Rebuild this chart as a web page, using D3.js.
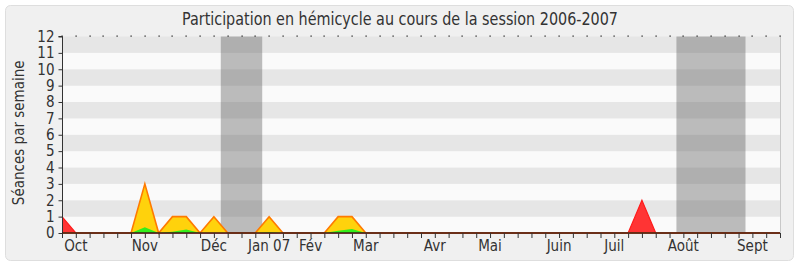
<!DOCTYPE html>
<html>
<head>
<meta charset="utf-8">
<script src="https://cdn.jsdelivr.net/npm/d3@7"></script>
<style>
  html, body { margin: 0; padding: 0; background: #ffffff; }
  svg { display: block; }
  svg text { font-family: "DejaVu Sans Condensed", "DejaVu Sans", sans-serif; font-stretch: condensed; }
</style>
</head>
<body>
<svg id="chart" width="800" height="267"></svg>
<script>
// Weekly sessions, 53 weeks from early October 2006 to end of September 2007
const presences = [0,0,0,0,0,0,3,0,1,1,0,1,0,0,0,1,0,0,0,0,1,1,0,0,0,0,0,0,0,0,0,0,0,0,0,0,0,0,0,0,0,0,0,0,0,0,0,0,0,0,0,0,0];
const commission = [1,0,0,0,0,0,0,0,0,0,0,0,0,0,0,0,0,0,0,0,0,0,0,0,0,0,0,0,0,0,0,0,0,0,0,0,0,0,0,0,0,0,2,0,0,0,0,0,0,0,0,0,0];
const interventions = [0,0,0,0,0,0,0.35,0,0.08,0.22,0,0,0,0,0,0.05,0,0,0,0,0.14,0.24,0,0,0,0,0,0,0,0,0,0,0,0,0,0,0,0,0,0,0,0,0,0,0,0,0,0,0,0,0,0,0];

// Month labels and the week they sit under
const monthLabels = ["Oct","Nov","Déc","Jan 07","Fév","Mar","Avr","Mai","Juin","Juil","Août","Sept"];
const monthWeeks = [1,6,11,15,18,22,27,31,36,40,45,50];

// Parliamentary holidays (week ranges)
const holidayStart = [11.5, 44.5];
const holidayEnd = [14.5, 49.5];

const yTicks = [0,1,2,3,4,5,6,7,8,9,10,11,12];

(function draw() {
  const svg = d3.select("#chart");
  const plotLeft = 62, plotRight = 780, plotTop = 36.5, plotBottom = 233;

  const weeks = d3.range(presences.length);
  const x = d3.scaleLinear().domain([0, weeks.length - 1]).range([plotLeft, plotRight]);
  const y = d3.scaleLinear().domain([0, 12]).range([plotBottom, plotTop]);

  // Frame
  svg.append("rect")
    .attr("x", 5.5).attr("y", 5.5).attr("width", 788).attr("height", 255)
    .attr("rx", 5).attr("fill", "#f0f0f0").attr("stroke", "#dedede");

  // Title
  svg.append("text")
    .attr("x", 400).attr("y", 25).attr("text-anchor", "middle")
    .attr("font-size", 17).attr("fill", "#333")
    .attr("textLength", 436).attr("lengthAdjust", "spacingAndGlyphs")
    .text("Participation en hémicycle au cours de la session 2006-2007");

  // Alternating horizontal bands
  const bands = yTicks.slice(0, -1);
  svg.append("g").selectAll("rect").data(bands).join("rect")
    .attr("x", plotLeft).attr("width", plotRight - plotLeft)
    .attr("y", d => y(d + 1)).attr("height", d => y(d) - y(d + 1))
    .attr("fill", d => (d % 2 === 1) ? "#e6e6e6" : "#fafafa");

  // Holiday shading
  svg.append("g").selectAll("rect").data(holidayStart).join("rect")
    .attr("x", d => x(d)).attr("width", (d, i) => x(holidayEnd[i]) - x(d))
    .attr("y", plotTop).attr("height", plotBottom - plotTop)
    .attr("fill", "rgb(92,92,92)").attr("fill-opacity", 0.4);

  // Right border of the plot
  svg.append("line")
    .attr("x1", plotRight + 0.5).attr("x2", plotRight + 0.5).attr("y1", plotTop).attr("y2", plotBottom)
    .attr("stroke", "#c8c8c8");

  // Dotted top edge
  svg.append("g").selectAll("rect").data(weeks).join("rect")
    .attr("x", d => Math.round(x(d)) - 0.5).attr("y", plotTop - 1).attr("width", 1.2).attr("height", 1.2)
    .attr("fill", "#111");

  // Series areas (filled) and their upper outlines
  const areaOf = values => d3.area().x((d, i) => x(i)).y0(y(0)).y1(d => y(d))(values);
  const lineOf = values => d3.line().x((d, i) => x(i)).y(d => y(d))(values);

  svg.append("path").attr("d", areaOf(commission)).attr("fill", "#ff3434");
  svg.append("path").attr("d", lineOf(commission))
    .attr("fill", "none").attr("stroke", "#ff1a1a").attr("stroke-width", 1.2);

  svg.append("path").attr("d", areaOf(presences)).attr("fill", "#ffd20c");
  svg.append("path").attr("d", lineOf(presences))
    .attr("fill", "none").attr("stroke", "#ff7a00").attr("stroke-width", 1.6);

  svg.append("path").attr("d", areaOf(interventions)).attr("fill", "#33ee1a");

  // Y axis
  const yAxis = svg.append("g").attr("transform", `translate(${plotLeft + 0.5},0)`)
    .call(d3.axisLeft(y).tickValues(yTicks).tickSize(4).tickPadding(4).tickFormat(d3.format("d")));
  yAxis.attr("font-family", null).attr("font-size", null);
  yAxis.select(".domain").attr("stroke", "#333").attr("d", `M-4,${y(12)}H0V${y(0)}`);
  yAxis.selectAll(".tick line").attr("stroke", "#333");
  yAxis.selectAll(".tick text").attr("font-size", 15).attr("fill", "#333");

  // X axis with weekly ticks
  const xAxis = svg.append("g").attr("transform", `translate(0,${plotBottom})`)
    .call(d3.axisBottom(x).tickValues(weeks).tickSize(5).tickFormat(""));
  xAxis.select(".domain").attr("stroke", "#3a1616").attr("stroke-width", 1.6)
    .attr("d", `M${plotLeft},0H${plotRight}`);
  xAxis.selectAll(".tick line").attr("stroke", "#333");

  svg.append("g").selectAll("text").data(monthLabels).join("text")
    .attr("x", (d, i) => x(monthWeeks[i])).attr("y", 251)
    .attr("text-anchor", "middle").attr("font-size", 15).attr("fill", "#333")
    .text(d => d);

  // Y axis title
  svg.append("text")
    .attr("transform", `translate(23.5,${(plotTop + plotBottom) / 2 - 2}) rotate(-90)`)
    .attr("text-anchor", "middle").attr("font-size", 15).attr("fill", "#333")
    .text("Séances par semaine");
})();
</script>
</body>
</html>
